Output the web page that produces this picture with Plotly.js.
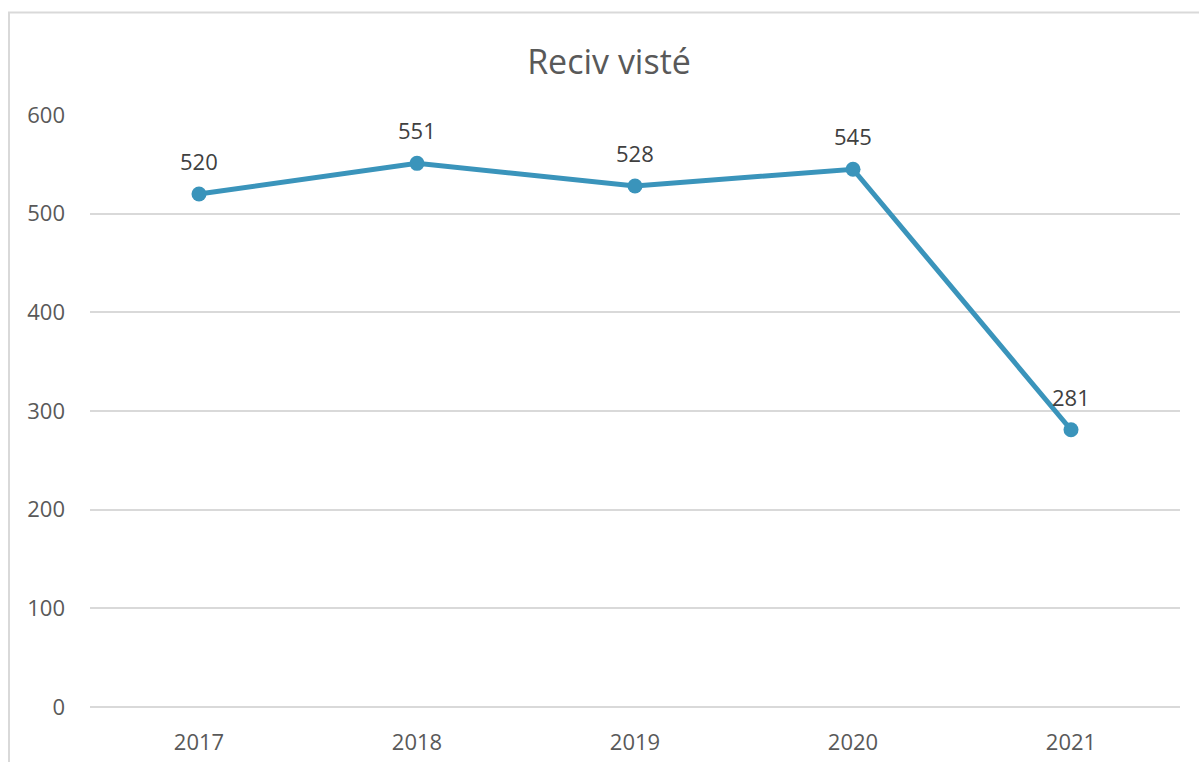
<!DOCTYPE html>
<html>
<head>
<meta charset="utf-8">
<script src="https://cdn.plot.ly/plotly-3.0.1.min.js"></script>
<style>
html,body{margin:0;padding:0;overflow:hidden;background:#fff;}
#chart{width:1199px;height:762px;}
</style>
</head>
<body>
<div id="chart"></div>
<script>
var years = ["2017", "2018", "2019", "2020", "2021"];
var values = [520, 551, 528, 545, 281];
var yTicks = [0, 100, 200, 300, 400, 500, 600];
var chartTitle = "Reciv visté";

var fontFam = "'Open Sans', 'Noto Sans', sans-serif";

var trace = {
  type: "scatter",
  mode: "lines+markers",
  x: years,
  y: values,
  line: {color: "#3a94bb", width: 5},
  marker: {color: "#3a94bb", size: 15},
  cliponaxis: false,
  hoverinfo: "x+y"
};

// category index positions on the category axis
var labels = years.map(function (yr, i) {
  return {
    x: i, y: values[i], xref: "x", yref: "y",
    text: String(values[i]),
    showarrow: false,
    yshift: 33,
    font: {family: fontFam, size: 22, color: "#404040"}
  };
});

var layout = {
  width: 1199,
  height: 762,
  margin: {l: 90, r: 19, t: 115, b: 55},
  paper_bgcolor: "#ffffff",
  plot_bgcolor: "#ffffff",
  showlegend: false,
  title: {
    text: chartTitle,
    font: {family: fontFam, size: 34, color: "#595959"},
    x: 609 / 1199, xref: "container", xanchor: "center",
    y: 1 - 62/762, yref: "container", yanchor: "middle"
  },
  xaxis: {
    type: "category",
    range: [-0.5, 4.5],
    showgrid: false,
    zeroline: false,
    showline: false,
    ticks: "",
    ticklabelstandoff: 20,
    tickfont: {family: fontFam, size: 22, color: "#595959"}
  },
  yaxis: {
    range: [0, 600],
    tickvals: yTicks,
    showgrid: true,
    gridcolor: "#d9d9d9",
    gridwidth: 2,
    zeroline: true,
    zerolinecolor: "#d9d9d9",
    zerolinewidth: 2,
    showline: false,
    ticks: "",
    ticklabelstandoff: 24,
    tickfont: {family: fontFam, size: 22, color: "#595959"}
  },
  annotations: labels,
  shapes: [{
    type: "rect",
    xref: "paper", yref: "paper",
    x0: (9 - 90) / 1090, x1: 1.3,
    y0: -0.3, y1: (707 - 12.5) / 592,
    line: {color: "#d9d9d9", width: 2},
    layer: "below"
  }]
};

Plotly.newPlot("chart", [trace], layout, {displayModeBar: false, staticPlot: true});
</script>
</body>
</html>
